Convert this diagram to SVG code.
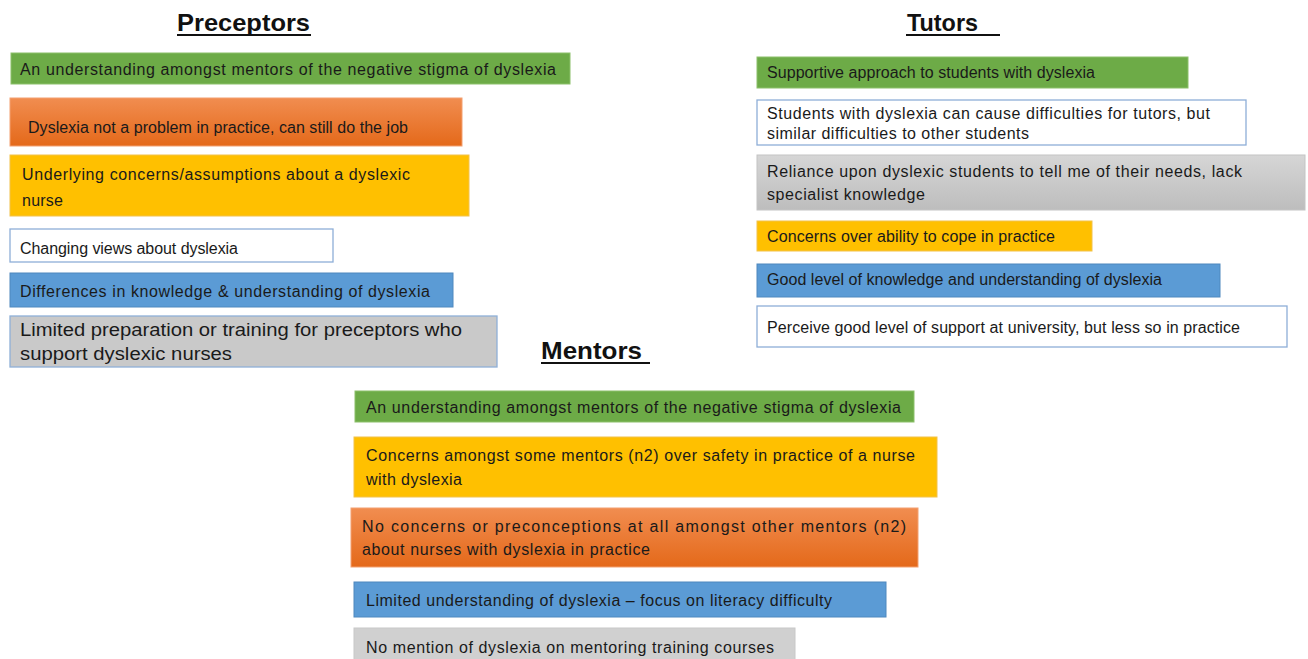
<svg xmlns="http://www.w3.org/2000/svg" width="1308" height="659" viewBox="0 0 1308 659">
<defs>
<linearGradient id="og" x1="0" y1="0" x2="0" y2="1"><stop offset="0" stop-color="#f18d50"/><stop offset="1" stop-color="#e4691a"/></linearGradient>
<linearGradient id="gg" x1="0" y1="0" x2="0" y2="1"><stop offset="0" stop-color="#d6d6d6"/><stop offset="1" stop-color="#bdbdbd"/></linearGradient>
<style>
.t{font-family:"Liberation Sans",Arial,sans-serif;font-size:16px;fill:#1a1a1a}
.tl{font-family:"Liberation Sans",Arial,sans-serif;font-size:17.5px;fill:#1a1a1a}
.h{font-family:"Liberation Sans",Arial,sans-serif;font-size:24px;font-weight:bold;fill:#111}
.ul{stroke:#111;stroke-width:2}
.green{fill:#6dab47;stroke:#8cc06a;stroke-width:1}
.orange{fill:url(#og);stroke:#f3a070;stroke-width:1}
.yellow{fill:#ffc000;stroke:#f2c24a;stroke-width:1}
.blue{fill:#5b9bd5;stroke:#4f88be;stroke-width:1}
.white{fill:#ffffff;stroke:#8eaed8;stroke-width:1.3}
.gray{fill:#c9c9c9;stroke:#8fb0d8;stroke-width:1.3}
.gray2{fill:url(#gg);stroke:#c4c4c4;stroke-width:1}
.gray3{fill:#d0d0d0;stroke:#c8c8c8;stroke-width:1}
</style>
</defs>
<rect width="1308" height="659" fill="#ffffff"/>

<g id="title-preceptors">
<text class="h" x="177" y="31" textLength="133" lengthAdjust="spacingAndGlyphs">Preceptors</text>
<line class="ul" x1="177" y1="35" x2="311" y2="35"/>
</g>
<g id="title-tutors">
<text class="h" x="907" y="31" textLength="71" lengthAdjust="spacingAndGlyphs">Tutors</text>
<line class="ul" x1="906" y1="35" x2="1000" y2="35"/>
</g>
<g id="title-mentors">
<text class="h" x="541" y="359" textLength="101" lengthAdjust="spacingAndGlyphs">Mentors</text>
<line class="ul" x1="541" y1="363" x2="650" y2="363"/>
</g>

<g id="p1"><rect class="green" x="11" y="53" width="559" height="31"/>
<text class="t" x="20" y="75" textLength="536" lengthAdjust="spacing">An understanding amongst mentors of the negative stigma of dyslexia</text></g>
<g id="p2"><rect class="orange" x="10" y="98" width="452" height="48"/>
<text class="t" x="28" y="133" textLength="380" lengthAdjust="spacing">Dyslexia not a problem in practice, can still do the job</text></g>
<g id="p3"><rect class="yellow" x="10" y="155" width="459" height="61"/>
<text class="t" x="22" y="180" textLength="388" lengthAdjust="spacing">Underlying concerns/assumptions  about a dyslexic</text>
<text class="t" x="22" y="206" textLength="41" lengthAdjust="spacing">nurse</text></g>
<g id="p4"><rect class="white" x="10" y="229" width="323" height="33"/>
<text class="t" x="20" y="254" textLength="218" lengthAdjust="spacing">Changing views about dyslexia</text></g>
<g id="p5"><rect class="blue" x="10" y="273" width="443" height="34"/>
<text class="t" x="20" y="297" textLength="410" lengthAdjust="spacing">Differences in knowledge &amp; understanding  of dyslexia</text></g>
<g id="p6"><rect class="gray" x="10" y="316" width="487" height="51"/>
<text class="tl" x="20" y="336" textLength="442" lengthAdjust="spacingAndGlyphs">Limited preparation or training  for preceptors who</text>
<text class="tl" x="20" y="360" textLength="212" lengthAdjust="spacingAndGlyphs">support dyslexic nurses</text></g>

<g id="t1"><rect class="green" x="757" y="57" width="431" height="31"/>
<text class="t" x="767" y="78" textLength="328" lengthAdjust="spacing">Supportive approach to students with dyslexia</text></g>
<g id="t2"><rect class="white" x="757" y="100" width="489" height="45"/>
<text class="t" x="767" y="119" textLength="443" lengthAdjust="spacing">Students with dyslexia can cause difficulties for tutors, but</text>
<text class="t" x="767" y="139" textLength="262" lengthAdjust="spacing">similar difficulties to other students</text></g>
<g id="t3"><rect class="gray2" x="757" y="155" width="548" height="55"/>
<text class="t" x="767" y="177" textLength="475" lengthAdjust="spacing">Reliance upon dyslexic students to tell me of their needs, lack</text>
<text class="t" x="767" y="200" textLength="158" lengthAdjust="spacing">specialist knowledge</text></g>
<g id="t4"><rect class="yellow" x="757" y="221" width="335" height="30"/>
<text class="t" x="767" y="242" textLength="288" lengthAdjust="spacing">Concerns over ability to cope in practice</text></g>
<g id="t5"><rect class="blue" x="757" y="264" width="463" height="33"/>
<text class="t" x="767" y="285" textLength="395" lengthAdjust="spacing">Good level of knowledge and understanding of dyslexia</text></g>
<g id="t6"><rect class="white" x="757" y="306" width="530" height="41"/>
<text class="t" x="767" y="333" textLength="473" lengthAdjust="spacing">Perceive good level of support at university, but less so in practice</text></g>

<g id="m1"><rect class="green" x="355" y="391" width="559" height="31"/>
<text class="t" x="366" y="413" textLength="535" lengthAdjust="spacing">An understanding amongst mentors of the negative stigma of dyslexia</text></g>
<g id="m2"><rect class="yellow" x="354" y="437" width="583" height="60"/>
<text class="t" x="366" y="461" textLength="549" lengthAdjust="spacing">Concerns amongst some mentors (n2) over safety in practice of a nurse</text>
<text class="t" x="366" y="485" textLength="96" lengthAdjust="spacing">with dyslexia</text></g>
<g id="m3"><rect class="orange" x="351" y="508" width="567" height="59"/>
<text class="t" x="362" y="532" textLength="544" lengthAdjust="spacing">No concerns or preconceptions at all amongst other mentors (n2)</text>
<text class="t" x="362" y="555" textLength="288" lengthAdjust="spacing">about nurses with dyslexia in practice</text></g>
<g id="m4"><rect class="blue" x="354" y="582" width="532" height="35"/>
<text class="t" x="366" y="606" textLength="466" lengthAdjust="spacing">Limited understanding of dyslexia – focus on literacy difficulty</text></g>
<g id="m5"><rect class="gray3" x="354" y="628" width="441" height="35"/>
<text class="t" x="366" y="653" textLength="408" lengthAdjust="spacing">No mention of dyslexia on mentoring training courses</text></g>
</svg>
